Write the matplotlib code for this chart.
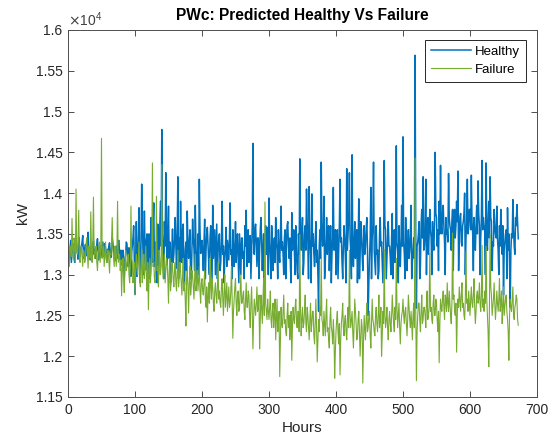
import numpy as np
import matplotlib
matplotlib.use('Agg')
import matplotlib.pyplot as plt

plt.rcParams['font.family'] = ['Liberation Sans', 'DejaVu Sans']

# one sample per hour (kW)
hours = np.arange(0, 673)

healthy = [
    13300, 13240, 13180, 13310, 13420, 13150, 13260, 13380, 13350, 13200, 13150, 13290, 13390, 13330, 13280, 13190, 13460, 13360, 13220, 13280,
    13330, 13400, 13480, 13260, 13200, 13310, 13370, 13230, 13290, 13420, 13520, 13300, 13240, 13180, 13360, 13270, 13190, 13340, 13410, 13250,
    13310, 13200, 13250, 13370, 13440, 13290, 13180, 13260, 13350, 13210, 13270, 13340, 13400, 13300, 13220, 13380, 13330, 13240, 13150, 13310,
    13280, 13350, 13390, 13240, 13210, 13320, 13460, 13380, 13300, 13230, 13170, 13290, 13350, 13200, 13240, 13410, 13420, 13260, 13190, 13300,
    13120, 13250, 13300, 13150, 12950, 13180, 13250, 13400, 13380, 13220, 13100, 13330, 13290, 13060, 12980, 13270, 13350, 13450, 13600, 13200,
    12760, 13100, 13650, 12980, 13180, 13450, 13820, 13050, 12900, 13380, 14110, 13600, 13250, 13000, 13780, 13290, 13060, 13420, 13500, 13000,
    13320, 13500, 12950, 13000, 13700, 13380, 13150, 13600, 13880, 13100, 13400, 13280, 13050, 12900, 13620, 13000, 13240, 13550, 13900, 13350,
    14780, 13500, 13300, 12950, 13650, 13350, 14250, 13600, 13120, 13450, 13840, 13200, 13400, 12900, 12980, 13300, 13560, 13150, 13250, 13450,
    13700, 13350, 13080, 13500, 14200, 12950, 13450, 13150, 13900, 13400, 13150, 13550, 13620, 12900, 12880, 13300, 13400, 13050, 13780, 13350,
    13200, 13400, 13550, 12950, 12950, 13300, 13680, 13450, 13320, 13050, 13850, 13350, 13100, 12950, 13500, 13000, 14170, 13550, 13260, 13400,
    13420, 13250, 13050, 13400, 13680, 12950, 13300, 13500, 13580, 13350, 13150, 13000, 13450, 13600, 13250, 12950, 13850, 13200, 13380, 13550,
    13000, 13300, 13620, 12950, 13280, 13450, 13500, 13050, 13150, 13400, 13900, 13250, 13350, 12900, 13200, 13350, 13580, 13100, 13420, 13300,
    13180, 13450, 13880, 13250, 13300, 12950, 13550, 13350, 13100, 13300, 13650, 13150, 13380, 13500, 13220, 12900, 13500, 13250, 13000, 13450,
    13450, 13200, 13280, 12950, 13600, 13350, 13790, 13100, 13350, 13550, 13150, 13400, 13480, 12950, 13300, 13600, 14610, 13400, 13250, 13550,
    13620, 13350, 13100, 13450, 13450, 12950, 13300, 13550, 13700, 13400, 13050, 13300, 13500, 12900, 13350, 13600, 13250, 13400, 13580, 13000,
    13940, 13400, 13200, 12950, 13600, 13300, 13050, 13350, 13450, 13150, 13700, 13400, 13300, 12950, 13550, 13250, 13150, 13450, 13840, 13300,
    13400, 13250, 13000, 13450, 13550, 12950, 13350, 13600, 13650, 13350, 13200, 13450, 13100, 12900, 13760, 13300, 13400, 13550, 13250, 13000,
    13600, 13300, 13050, 12950, 13500, 13250, 14420, 13550, 13300, 13450, 13700, 13000, 13150, 13500, 13600, 13300, 14050, 13650, 13400, 12950,
    14080, 13450, 13250, 12900, 13990, 13350, 13500, 13250, 13100, 13400, 13650, 13150, 13300, 13000, 12550, 13350, 13550, 13200, 14380, 13500,
    13350, 13500, 13960, 12950, 13150, 13400, 13700, 13250, 13450, 13600, 13050, 13350, 13600, 12900, 13250, 13500, 14070, 13300, 13400, 13550,
    13000, 13350, 13550, 12950, 13300, 13600, 14170, 13400, 13450, 13150, 12950, 13350, 13600, 13450, 13200, 12900, 14300, 13300, 13500, 13700,
    14250, 13450, 13300, 12950, 14470, 13350, 13100, 13400, 13650, 13200, 13400, 13550, 12900, 13300, 13930, 12950, 13250, 13650, 13550, 13250,
    13050, 13400, 13600, 13250, 13350, 13550, 13700, 13300, 12500, 12900, 13200, 13450, 14070, 12950, 13450, 13600, 14380, 13300, 13150, 13000,
    13600, 13250, 13300, 12950, 13050, 13500, 13700, 13350, 13400, 13150, 12900, 13300, 14400, 13600, 13550, 12950, 13200, 13450, 13650, 13350,
    13350, 13200, 13000, 13450, 13750, 12950, 13450, 13550, 13150, 13350, 14580, 13400, 13300, 12900, 13600, 13250, 13100, 13400, 13850, 13350,
    14690, 13400, 13250, 12950, 13700, 13300, 13050, 13350, 13550, 13200, 13300, 13500, 13850, 12950, 13150, 13300, 13450, 13200, 15690, 13550,
    12590, 13350, 13400, 13500, 13650, 12950, 13100, 13600, 13800, 13450, 14200, 13300, 13350, 13550, 14170, 13000, 13600, 13700, 13250, 13500,
    13800, 13550, 13450, 13000, 13650, 13400, 13300, 13600, 14500, 13750, 13700, 13350, 13550, 13050, 13900, 13500, 14340, 13600, 13500, 13750,
    13850, 13600, 13400, 13000, 13700, 13500, 13550, 13400, 14240, 13700, 13600, 13550, 13300, 13650, 13800, 13050, 13650, 13800, 13450, 13600,
    13900, 13650, 14270, 13050, 13500, 13700, 13750, 13400, 13350, 13600, 13650, 13750, 14000, 13000, 13450, 13650, 14170, 13500, 13600, 13800,
    13800, 13550, 14220, 13650, 13500, 13050, 13700, 13450, 13300, 13600, 13850, 13500, 14150, 13750, 13600, 13000, 13450, 13700, 14400, 13550,
    13700, 13600, 13550, 13000, 14370, 13500, 13300, 13650, 13900, 13450, 14200, 13700, 13650, 13050, 13400, 13350, 13800, 13600, 13500, 13450,
    13840, 13450, 13300, 13000, 13600, 13350, 13800, 13450, 13250, 13600, 12750, 13300, 13400, 13500, 13550, 12950, 13820, 13300, 13500, 13150,
    12600, 13300, 13500, 13450, 13920, 13550, 13350, 13250, 13700, 13600, 13860, 13650, 13440,
]

failure = [
    13250, 13180, 13100, 13350, 13300, 13220, 13690, 13300, 13200, 13450, 13400, 13150, 14050, 13280, 13250, 13400, 13790, 13200, 13150, 13320,
    13350, 13220, 13100, 13300, 13280, 13150, 13200, 13380, 13450, 13250, 13080, 13350, 13300, 13200, 13770, 13300, 13150, 13400, 13950, 13250,
    13200, 13300, 13350, 13150, 13050, 13250, 13300, 13400, 13150, 13350, 14670, 13200, 13250, 13350, 13100, 13250, 13400, 13200, 13150, 13300,
    13300, 13150, 13020, 13250, 13250, 13400, 13700, 13300, 13200, 13100, 13350, 13250, 13100, 13300, 13900, 13150, 13200, 13250, 13050, 13180,
    12740, 13050, 13200, 12950, 12780, 13150, 13300, 13050, 13100, 13200, 13250, 13000, 12900, 13100, 13840, 13200, 13150, 12900, 13000, 13150,
    12750, 13050, 13250, 13100, 13000, 13200, 13400, 12950, 12850, 13150, 13300, 12900, 13100, 13250, 12950, 13100, 13350, 13000, 12800, 13150,
    12570, 13000, 13200, 12900, 13050, 13250, 14370, 13100, 13150, 12950, 12900, 13150, 13960, 13050, 13100, 12850, 13300, 13200, 13000, 13100,
    14350, 13100, 12950, 13150, 13250, 12900, 13050, 13200, 13150, 12950, 12650, 13050, 13200, 12800, 12900, 13150, 13100, 12950, 12850, 13050,
    13150, 12900, 12800, 13050, 13300, 12850, 12950, 13150, 13050, 12900, 12750, 13000, 13200, 12800, 12900, 12700, 12370, 12950, 13050, 12850,
    12530, 12900, 13100, 12750, 12850, 13050, 13000, 12850, 12700, 12950, 13250, 12800, 12900, 13050, 12800, 12950, 13100, 12800, 12650, 12900,
    12950, 12800, 12750, 12900, 13050, 12700, 12600, 12850, 12420, 12750, 12900, 12650, 13200, 12850, 12700, 12950, 12850, 12650, 12550, 12800,
    12900, 12750, 12650, 12850, 13150, 12700, 12800, 12650, 12600, 12850, 12950, 12700, 12500, 12800, 13000, 12600, 12750, 12900, 12550, 12700,
    12850, 12600, 12650, 12800, 13100, 12700, 12220, 12550, 12700, 12850, 12950, 12650, 12500, 12750, 12800, 12550, 12600, 12800, 13000, 12650,
    12650, 12750, 12800, 12550, 12450, 12700, 12900, 12600, 12600, 12800, 12750, 12500, 12350, 12650, 12850, 12550, 12090, 12450, 12700, 12600,
    12500, 12650, 12850, 12550, 12600, 12750, 12090, 12450, 12750, 12600, 12400, 12700, 12950, 12500, 13890, 12650, 12550, 12450, 12700, 12550,
    12450, 12600, 12800, 12450, 12350, 12550, 12650, 12350, 12500, 12700, 12200, 12450, 12700, 12300, 12400, 12550, 11750, 12200, 12600, 12400,
    12350, 12550, 12750, 12400, 12450, 12300, 12250, 12500, 12650, 12350, 12500, 12200, 12300, 12550, 11950, 12350, 12600, 12450, 12400, 12600,
    12700, 12450, 12350, 12550, 12550, 12300, 13490, 12600, 12250, 12450, 12600, 12350, 12400, 12550, 12750, 12400, 12300, 12600, 12500, 12350,
    12200, 12450, 12650, 12300, 12400, 12550, 12550, 12250, 12150, 12400, 12700, 12350, 11930, 12200, 12450, 12300, 12600, 12500, 13200, 12450,
    12400, 12250, 12550, 12400, 12250, 12500, 12700, 12300, 12350, 12200, 12100, 12450, 12600, 12350, 12300, 12150, 12450, 12250, 11730, 12050,
    12300, 12450, 12550, 12300, 12150, 12400, 11770, 12200, 12400, 12500, 12650, 12350, 12250, 12450, 12500, 12300, 12200, 12450, 12600, 12350,
    13300, 12500, 12350, 12450, 12550, 12300, 12100, 12400, 12700, 12550, 12400, 12200, 12250, 12450, 12550, 12300, 12000, 12250, 12450, 12350,
    11670, 12150, 12500, 12350, 12200, 12450, 12650, 12300, 12350, 12500, 12550, 12250, 12100, 12400, 12700, 12450, 12400, 12300, 12250, 12500,
    12600, 12400, 12300, 12500, 12750, 12350, 12450, 12600, 12000, 12250, 12550, 12400, 13310, 12500, 12350, 12450, 12600, 12350, 12200, 12450,
    12550, 12400, 12300, 12500, 12750, 12550, 12400, 12300, 12600, 12450, 13200, 12600, 12350, 12500, 12650, 12350, 12150, 12400, 12500, 12550,
    12700, 12500, 12400, 12550, 12600, 12400, 12250, 12450, 12750, 12600, 12450, 12350, 12550, 12400, 12200, 12500, 12650, 12350, 14430, 12600,
    11700, 12300, 12500, 12650, 12650, 12450, 12300, 12550, 12750, 12400, 12450, 12600, 12600, 12500, 12350, 12650, 12800, 12450, 12500, 12600,
    13260, 12550, 12600, 12450, 12400, 12650, 12750, 12500, 12500, 12700, 12650, 12450, 12300, 12550, 11920, 12400, 12700, 12600, 12550, 12700,
    12800, 12600, 12450, 12750, 12700, 12550, 12900, 12650, 12550, 12800, 12650, 12500, 12400, 12650, 13510, 12700, 12750, 12550, 12500, 12650,
    12050, 12500, 12700, 12600, 12850, 12700, 12550, 12750, 12900, 12600, 12650, 12500, 12450, 12700, 13280, 12650, 12700, 12550, 12800, 12650,
    12500, 12700, 12850, 12650, 12600, 12750, 12950, 12600, 12400, 12550, 12750, 12800, 12650, 12700, 12900, 12650, 12550, 12750, 13360, 12600,
    12700, 12550, 12800, 12650, 13350, 12700, 12500, 12300, 11870, 12600, 13490, 12850, 12750, 12500, 12600, 12700, 12900, 12650, 12450, 12600,
    12800, 12650, 12550, 12700, 12950, 12550, 12650, 12800, 12400, 12600, 12850, 12500, 12600, 12700, 12750, 12550, 12450, 12300, 11950, 12500,
    12700, 12600, 12550, 12700, 12850, 12500, 12450, 12600, 12650, 12750, 12700, 12450, 12380,
]

ytick_vals = [1.15, 1.2, 1.25, 1.3, 1.35, 1.4, 1.45, 1.5, 1.55, 1.6]
xtick_vals = [0, 100, 200, 300, 400, 500, 600, 700]

h = np.array(healthy) / 1e4
f = np.array(failure) / 1e4

fig = plt.figure(figsize=(5.51, 4.45), dpi=100)
ax = fig.add_axes([0.1234, 0.1079, 0.8512, 0.8247])

ax.plot(hours, h, color='#0072BD', lw=1.1, label='Healthy')
ax.plot(hours, f, color='#77AC30', lw=0.8, label='Failure')

ax.set_xlim(0, 700)
ax.set_ylim(1.15, 1.6)
ax.set_xticks(xtick_vals)
ax.set_yticks(ytick_vals)
ax.set_yticklabels(['%g' % v for v in ytick_vals])

grey = '#262626'
for s in ax.spines.values():
    s.set_color('#4d4d4d')
    s.set_linewidth(0.7)
ax.tick_params(direction='in', top=True, right=True, length=4, width=0.7,
               color='#4d4d4d', labelcolor=grey, labelsize=10, pad=4)

ax.text(0, 1.004, r'$\times\mathregular{10^{4}}$', transform=ax.transAxes,
        fontsize=10, color='#404040', ha='left', va='bottom')
ax.set_title('PWc: Predicted Healthy Vs Failure', fontsize=11.2, fontweight='bold',
             color='black', pad=7)
ax.set_xlabel('Hours', fontsize=11, color=grey, labelpad=3)
ax.set_ylabel('kW', fontsize=11, color=grey, labelpad=4)

leg = ax.legend(loc='upper right', fontsize=9.5, handlelength=3.0,
                handletextpad=0.35, fancybox=False, framealpha=1,
                borderpad=0.45, labelspacing=0.4, borderaxespad=0,
                bbox_to_anchor=(0.977, 0.973))
leg.get_frame().set_edgecolor('#262626')
leg.get_frame().set_linewidth(0.7)

fig.savefig('out.png', dpi=100)
